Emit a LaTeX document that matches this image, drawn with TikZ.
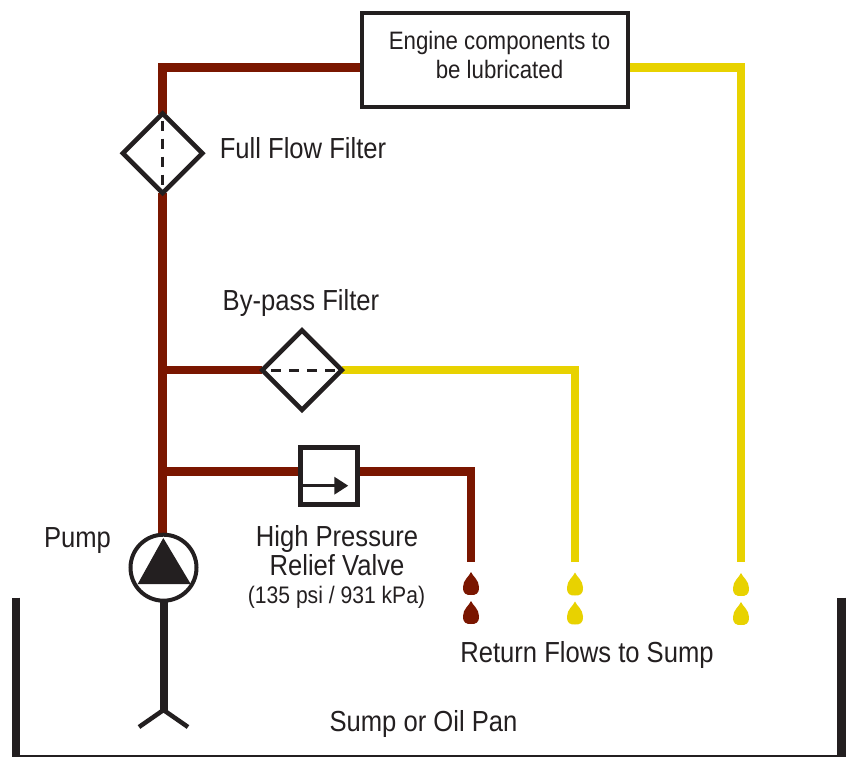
\documentclass[tikz,border=0pt]{standalone}
\usepackage{fontspec}
\setmainfont[FakeStretch=0.883]{Liberation Sans}
\usetikzlibrary{shapes.geometric,arrows.meta,backgrounds}
\definecolor{ink}{HTML}{231F20}
\definecolor{oilhot}{HTML}{7A1600}
\definecolor{oilcool}{HTML}{E8D200}
\tikzset{
  x=1pt,y=-1pt,
  hotline/.style={draw=oilhot,line width=8.3pt},
  coolline/.style={draw=oilcool,line width=8.3pt},
  filterbox/.style={diamond,draw=ink,line width=4.6pt,fill=white,minimum width=79.5pt,minimum height=79.5pt,inner sep=0pt,outer sep=0pt,aspect=1,line join=miter},
  dashline/.style={draw=ink,line width=3pt,dash pattern=on 10pt off 8pt},
  lbl/.style={text=ink,font=\fontsize{29}{28.5}\selectfont,inner sep=0pt,align=center},
  lblsmall/.style={text=ink,font=\fontsize{25.2}{29}\selectfont,inner sep=0pt,align=center},
  lbltiny/.style={text=ink,font=\fontsize{23.9}{25}\selectfont,inner sep=0pt,align=center},
  droplet/.pic={\fill[pic actions] (0,-12) .. controls (1.5,-8) and (8,-4) .. (8,3) .. controls (8,10) and (5,11) .. (0,11) .. controls (-5,11) and (-8,10) .. (-8,3) .. controls (-8,-4) and (-1.5,-8) .. (0,-12) -- cycle;},
}
\begin{document}
\begin{tikzpicture}
\useasboundingbox (0,0) rectangle (846,756);
% components
\node[draw=ink,line width=4pt,fill=white,minimum width=266pt,minimum height=94pt,inner sep=0pt,outer sep=0pt] (engine) at (495,60) {};
\node[lblsmall,anchor=center] (enginetext) at (499.5,55) {Engine components to\\be lubricated};
\node[filterbox] (full) at (162.6,153.3) {};
\node[filterbox] (bypass) at (302,370) {};
\node[draw=ink,line width=5pt,fill=white,minimum width=57pt,minimum height=57pt,inner sep=0pt,outer sep=0pt] (relief) at (328.8,475.5) {};
\node[circle,draw=ink,line width=4pt,fill=white,minimum size=66pt,inner sep=0pt,outer sep=0pt] (pump) at (163.5,567.7) {};
% labels
\node[lbl] (lfull) at (303,148.5) {Full Flow Filter};
\node[lbl] (lby) at (301,303) {By-pass Filter};
\node[lbl] (lpump) at (77.5,541) {Pump};
\node[lbl] (lhp) at (337,550.5) {High Pressure\\Relief Valve};
\node[lbltiny] (lpsi) at (336.5,597.5) {(135 psi / 931 kPa)};
\node[lbl] (lret) at (587,655) {Return Flows to Sump};
\node[lbl] (lsump) at (423.5,723.5) {Sump or Oil Pan};
% free ends
\coordinate (hotend) at (471,562);
\coordinate (coolmid) at (575,562);
\coordinate (coolright) at (741,562);
\coordinate (footl) at (139,727);
\coordinate (footr) at (188,727);
\coordinate (stemfoot) at (163.5,710);
\coordinate (jby) at (162.6,370);
\coordinate (jrel) at (162.6,471.5);
\coordinate (topc) at (162.6,67.5);
\begin{scope}[on background layer]
\draw[hotline] (full.south) -- (full.south |- pump.north);
\draw[hotline,line join=miter] (full.north) -- (topc) -- (topc -| engine.west);
\draw[hotline] (jby) -- (bypass.west);
\draw[hotline] (jrel) -- (jrel -| relief.west);
\draw[hotline,line join=miter] (jrel -| relief.east) -| (hotend);
\draw[coolline,line join=miter] (bypass.east) -| (coolmid);
\draw[coolline,line join=miter] (topc -| engine.east) -| (coolright);
\end{scope}
% filter elements
\draw[dashline] ([yshift=-7pt]full.north) -- ([yshift=7pt]full.south);
\draw[dashline] ([xshift=-7pt]bypass.east) -- ([xshift=7pt]bypass.west);
% relief arrow
\coordinate (relA) at ([xshift=-26pt,yshift=-10.2pt]relief.center);
\coordinate (relB) at ([xshift=19.5pt,yshift=-10.2pt]relief.center);
\draw[ink,line width=3.2pt,-{Triangle[length=14pt,width=17pt]}] (relA) -- (relB);
% pump triangle
\fill[ink] (163.3,538) -- (190.7,584) -- (137.7,584) -- cycle;
% suction
\draw[ink,line width=8pt] (pump.south) -- (stemfoot);
\draw[ink,line width=4.5pt,line join=miter] (footl) -- (stemfoot) -- (footr);
% drops
\pic[oilhot] at (471,584) {droplet};
\pic[oilhot] at (471,613) {droplet};
\pic[oilcool] at (575,584.5) {droplet};
\pic[oilcool] at (575,613.5) {droplet};
\pic[oilcool] at (741,585) {droplet};
\pic[oilcool] at (741,614) {droplet};
% pan
\draw[ink,line width=8pt] (16,597.5) -- (16,756);
\draw[ink,line width=8.6pt] (841.5,597.5) -- (841.5,756);
\draw[ink,line width=3pt] (12,756) -- (846,756);
\end{tikzpicture}
\end{document}
